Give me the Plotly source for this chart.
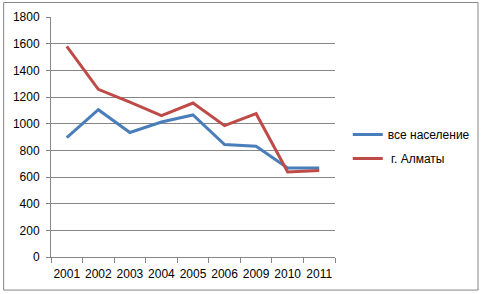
import plotly.graph_objects as go

years = ["2001", "2002", "2003", "2004", "2005", "2006", "2009", "2010", "2011"]
vse_naselenie = [896, 1105, 934, 1012, 1065, 843, 831, 668, 668]
almaty = [1580, 1258, 1162, 1060, 1155, 985, 1075, 638, 648]

BLUE = "#4a7ebb"
RED = "#be4b48"
GREY = "#868686"

fig = go.Figure()
fig.add_trace(go.Scatter(x=years, y=vse_naselenie, mode="lines", name="все население",
                         line=dict(color=BLUE, width=3), legendgroup="a"))
fig.add_trace(go.Scatter(x=years, y=almaty, mode="lines", name=" г. Алматы",
                         line=dict(color=RED, width=3), legendgroup="b"))

fig.update_layout(
    width=487, height=294,
    margin=dict(l=51, r=148, t=17, b=37),
    paper_bgcolor="white", plot_bgcolor="white",
    font=dict(family="Liberation Sans, Arial, sans-serif", size=12, color="black"),
    legend=dict(x=1.045, y=0.46, xanchor="left", yanchor="middle",
                tracegroupgap=5, itemwidth=30, bgcolor="rgba(0,0,0,0)"),
    xaxis=dict(type="category", range=[-0.5, len(years) - 0.5],
               tickson="boundaries", ticks="outside", ticklen=5, tickangle=0,
               tickcolor=GREY, showline=True, linecolor=GREY, linewidth=1,
               showgrid=False, fixedrange=True, ticklabelstandoff=6,
               automargin=False),
    yaxis=dict(range=[0, 1800], dtick=200, ticks="outside", ticklen=4,
               tickcolor=GREY, showline=True, linecolor=GREY, linewidth=1,
               gridcolor=GREY, gridwidth=1, zeroline=False, fixedrange=True,
               ticklabelstandoff=4, automargin=False),
    shapes=[dict(type="rect", xref="paper", yref="paper",
                 x0=-48/288, x1=(484-51)/288, y0=-(290-257)/239.5, y1=(257-3)/239.5,
                 line=dict(color=GREY, width=1))],
)

fig.write_html("out.html", config={"displayModeBar": False},
               post_script="document.body.style.margin='0';")
